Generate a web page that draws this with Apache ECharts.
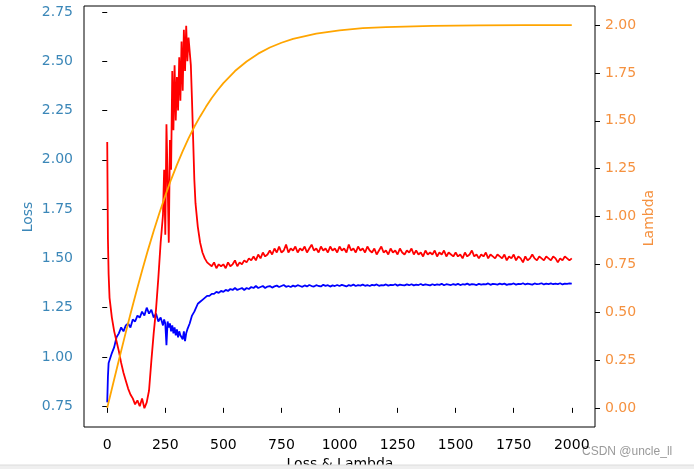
<!DOCTYPE html>
<html>
<head>
<meta charset="utf-8">
<script src="https://cdn.jsdelivr.net/npm/echarts@6/dist/echarts.min.js"></script>
<style>html,body{margin:0;padding:0;background:#fff;}#c{width:694px;height:469px;}</style>
</head>
<body>
<div id="c"></div>
<script>
const steps = [0,3,6,10,20,30,40,50,60,70,80,90,100,110,120,130,140,150,160,170,180,190,200,210,220,230,
240,245,250,255,260,265,270,275,280,285,290,295,300,305,310,315,320,325,330,335,340,345,350,355,360,365,370,375,
380,390,
400,410,420,430,440,450,460,470,480,490,
500,510,520,530,540,550,560,570,580,590,
600,610,620,630,640,650,660,670,680,690,
700,710,720,730,740,750,760,770,780,790,
800,810,820,830,840,850,860,870,880,890,
900,910,920,930,940,950,960,970,980,990,
1000,1010,1020,1030,1040,1050,1060,1070,1080,1090,
1100,1110,1120,1130,1140,1150,1160,1170,1180,1190,
1200,1210,1220,1230,1240,1250,1260,1270,1280,1290,
1300,1310,1320,1330,1340,1350,1360,1370,1380,1390,
1400,1410,1420,1430,1440,1450,1460,1470,1480,1490,
1500,1510,1520,1530,1540,1550,1560,1570,1580,1590,
1600,1610,1620,1630,1640,1650,1660,1670,1680,1690,
1700,1710,1720,1730,1740,1750,1760,1770,1780,1790,
1800,1810,1820,1830,1840,1850,1860,1870,1880,1890,
1900,1910,1920,1930,1940,1950,1960,1970,1980,1990,
2000];

const redLoss = [2.09,1.60,1.42,1.30,1.20,1.13,1.08,1.03,0.97,0.92,0.88,0.84,0.81,0.79,0.76,0.78,0.75,0.79,0.74,0.77,0.83,0.98,1.12,1.24,1.40,1.58,
1.72,1.95,1.62,2.18,1.90,1.58,2.10,1.95,2.45,2.15,2.48,2.20,2.42,2.25,2.52,2.30,2.60,2.35,2.66,2.45,2.68,2.50,2.62,2.55,2.48,2.30,2.10,1.90,
1.78,1.66,
1.58,1.53,1.50,1.48,1.47,1.46,1.48,1.45,1.47,1.46,
1.47,1.45,1.48,1.46,1.47,1.49,1.46,1.48,1.47,1.49,
1.48,1.50,1.49,1.51,1.49,1.52,1.50,1.53,1.51,1.52,
1.54,1.52,1.55,1.53,1.56,1.53,1.54,1.57,1.53,1.55,
1.54,1.56,1.53,1.55,1.54,1.56,1.53,1.55,1.57,1.54,
1.55,1.53,1.56,1.54,1.55,1.53,1.56,1.54,1.55,1.53,
1.56,1.54,1.55,1.53,1.57,1.54,1.55,1.53,1.56,1.54,
1.55,1.53,1.56,1.54,1.53,1.55,1.52,1.54,1.56,1.53,
1.54,1.52,1.55,1.53,1.54,1.52,1.55,1.53,1.52,1.54,
1.53,1.55,1.52,1.54,1.52,1.53,1.51,1.54,1.52,1.53,
1.52,1.54,1.51,1.53,1.52,1.54,1.51,1.53,1.52,1.51,
1.53,1.51,1.52,1.50,1.53,1.51,1.52,1.54,1.51,1.52,
1.50,1.52,1.51,1.53,1.50,1.52,1.51,1.50,1.52,1.51,
1.50,1.52,1.49,1.51,1.50,1.52,1.49,1.51,1.50,1.48,
1.51,1.49,1.50,1.52,1.50,1.49,1.51,1.50,1.49,1.51,
1.50,1.49,1.51,1.50,1.48,1.50,1.49,1.51,1.50,1.49,
1.50];

const blueLoss = [0.77,0.90,0.97,0.96,1.02,1.05,1.10,1.12,1.15,1.13,1.16,1.17,1.15,1.19,1.18,1.21,1.20,1.23,1.21,1.25,1.22,1.24,1.20,1.22,1.18,1.20,
1.16,1.19,1.17,1.06,1.18,1.15,1.17,1.13,1.16,1.12,1.15,1.11,1.14,1.10,1.13,1.11,1.12,1.09,1.13,1.08,1.12,1.14,1.15,1.17,1.19,1.21,1.22,1.23,
1.24,1.27,
1.28,1.29,1.30,1.31,1.31,1.32,1.32,1.33,1.325,1.335,
1.33,1.34,1.335,1.345,1.34,1.35,1.34,1.345,1.35,1.34,
1.35,1.345,1.355,1.35,1.36,1.35,1.355,1.36,1.35,1.357,
1.36,1.352,1.358,1.362,1.355,1.36,1.365,1.356,1.36,1.355,
1.362,1.357,1.364,1.36,1.356,1.363,1.358,1.365,1.36,1.357,
1.364,1.36,1.358,1.366,1.361,1.364,1.357,1.363,1.36,1.365,
1.36,1.366,1.362,1.358,1.365,1.361,1.367,1.36,1.364,1.362,
1.367,1.361,1.365,1.36,1.366,1.363,1.368,1.361,1.365,1.363,
1.368,1.362,1.366,1.364,1.369,1.362,1.367,1.365,1.363,1.368,
1.364,1.369,1.363,1.367,1.365,1.37,1.364,1.368,1.366,1.363,
1.369,1.365,1.368,1.366,1.371,1.364,1.369,1.367,1.365,1.37,
1.366,1.371,1.365,1.369,1.367,1.372,1.366,1.37,1.368,1.365,
1.371,1.367,1.37,1.368,1.373,1.366,1.371,1.369,1.367,1.372,
1.368,1.372,1.366,1.37,1.369,1.373,1.367,1.371,1.369,1.374,
1.368,1.372,1.37,1.367,1.373,1.369,1.371,1.374,1.368,1.372,
1.37,1.373,1.369,1.372,1.37,1.374,1.368,1.372,1.371,1.373,
1.372];

const lambdaSteps = [0,25,50,75,100,125,150,175,200,225,250,275,300,325,350,375,400,425,450,475,500,550,600,650,700,750,800,900,1000,1100,1200,1400,1600,1800,2000];
const lambdaVals = [0,0.125,0.249,0.371,0.490,0.605,0.717,0.823,0.924,1.020,1.109,1.193,1.270,1.342,1.408,1.469,1.523,1.573,1.619,1.660,1.697,1.760,1.810,1.851,1.883,1.908,1.928,1.956,1.973,1.984,1.990,1.996,1.999,2.000,2.000];

const xTicks = [0,250,500,750,1000,1250,1500,1750,2000];
const lossTicks = [0.75,1.00,1.25,1.50,1.75,2.00,2.25,2.50,2.75];
const lambdaTicks = [0,0.25,0.5,0.75,1.0,1.25,1.5,1.75,2.0];

const FONT = 'DejaVu Sans';
const BLUE_TXT = '#3b87b8';
const ORANGE_TXT = '#f5913f';

const chart = echarts.init(document.getElementById('c'), null, {renderer:'canvas'});
chart.setOption({
  animation: false,
  backgroundColor: '#fff',
  grid: {left: 84, right: 99, top: 6, bottom: 42, show: true, borderColor: '#000', borderWidth: 1, backgroundColor: 'transparent'},
  xAxis: {
    type: 'value', min: -100, max: 2100,
    splitLine: {show: false},
    axisLine: {show: false},
    axisTick: {show: true, length: 5, inside: false, customValues: xTicks, lineStyle: {color: '#000'}},
    axisLabel: {customValues: xTicks, color: '#000', fontFamily: FONT, fontSize: 14, margin: 11, formatter: v => String(v)}
  },
  yAxis: [{
    type: 'value', min: 0.645, max: 2.78, position: 'left',
    splitLine: {show: false},
    axisLine: {show: false},
    axisTick: {show: true, length: 5, inside: false, customValues: lossTicks, lineStyle: {color: '#000'}},
    axisLabel: {customValues: lossTicks, color: BLUE_TXT, fontFamily: FONT, fontSize: 14, margin: 11, formatter: v => v.toFixed(2)}
  }, {
    type: 'value', min: -0.1, max: 2.1, position: 'right',
    splitLine: {show: false},
    axisLine: {show: false},
    axisTick: {show: true, length: 5, inside: false, customValues: lambdaTicks, lineStyle: {color: '#000'}},
    axisLabel: {customValues: lambdaTicks, color: ORANGE_TXT, fontFamily: FONT, fontSize: 14, margin: 10, formatter: v => v.toFixed(2)}
  }],
  series: [{
    type: 'line', yAxisIndex: 0, showSymbol: false, z: 2,
    data: steps.map((s, i) => [s, blueLoss[i]]),
    lineStyle: {color: '#0000ff', width: 1.8}, itemStyle: {color: '#0000ff'}
  }, {
    type: 'line', yAxisIndex: 0, showSymbol: false, z: 3,
    data: steps.map((s, i) => [s, redLoss[i]]),
    lineStyle: {color: '#ff0000', width: 1.8}, itemStyle: {color: '#ff0000'}
  }, {
    type: 'line', yAxisIndex: 1, showSymbol: false, z: 4,
    data: lambdaSteps.map((s, i) => [s, lambdaVals[i]]),
    lineStyle: {color: '#ffa500', width: 1.8}, itemStyle: {color: '#ffa500'}
  }],
  graphic: [
    {type: 'text', x: 28, y: 217, rotation: Math.PI / 2, style: {text: 'Loss', fill: BLUE_TXT, font: '14px "DejaVu Sans"', textAlign: 'center', textVerticalAlign: 'middle'}},
    {type: 'text', x: 649, y: 218, rotation: Math.PI / 2, style: {text: 'Lambda', fill: ORANGE_TXT, font: '14px "DejaVu Sans"', textAlign: 'center', textVerticalAlign: 'middle'}},
    {type: 'text', x: 340, y: 464, style: {text: 'Loss & Lambda', fill: '#000', font: '14px "DejaVu Sans"', textAlign: 'center', textVerticalAlign: 'middle'}},
    {type: 'text', x: 582, y: 452, style: {text: 'CSDN @uncle_ll', fill: '#9a9a9a', font: '12px "Liberation Sans"', textAlign: 'left', textVerticalAlign: 'middle'}},
    {type: 'rect', shape: {x: 0, y: 465, width: 694, height: 4}, style: {fill: '#efefef'}, z: 100},
    {type: 'line', shape: {x1: 0, y1: 465, x2: 694, y2: 465}, style: {stroke: '#dcdcdc', lineWidth: 1}, z: 101}
  ]
});
</script>
</body>
</html>
